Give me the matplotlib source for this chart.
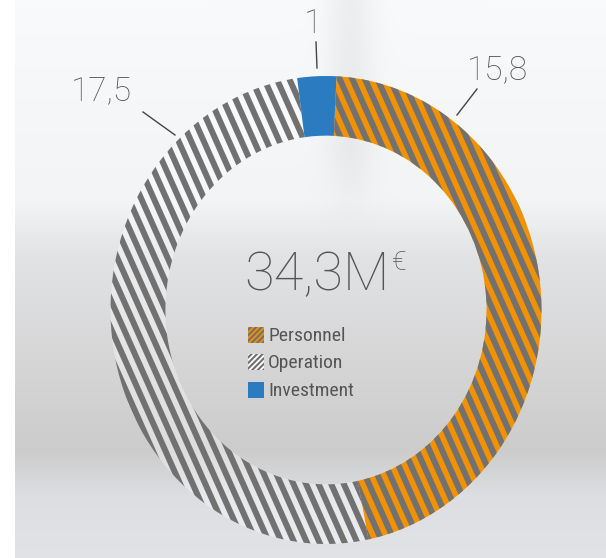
import numpy as np
import matplotlib.pyplot as plt
from matplotlib.patches import Rectangle
from matplotlib.collections import PolyCollection
from matplotlib import font_manager

# data
labels = ["Personnel", "Operation", "Investment"]
values = [15.8, 17.5, 1.0]
value_text = ["15,8", "17,5", "1"]
total_text = "34,3M"

ORANGE = "#F39200"
GREY = "#717171"
BLUE = "#2B7BC0"
TXT = "#555555"

W, H = 606, 558
fig = plt.figure(figsize=(W / 100, H / 100), dpi=100)

# blurred photo-like background
bg = fig.add_axes([0, 0, 1, 1])
ys = np.arange(H)
xs = np.arange(W)
stop_y = [0, 200, 255, 350, 450, 495, 558]
stop_c = [(248, 250, 252), (242, 244, 246), (226, 227, 229), (215, 215, 216),
          (204, 204, 204), (221, 222, 225), (226, 227, 231)]
img = np.zeros((H, W, 3))
for ch in range(3):
    img[:, :, ch] = np.interp(ys, stop_y, [c[ch] for c in stop_c])[:, None]
pole = np.exp(-((xs - 350) / 24.0) ** 2)[None, :] * np.clip((230 - ys) / 80.0, 0, 1)[:, None]
img -= 12 * pole[:, :, None]
img[:, :15] = 255
bg.imshow(np.clip(img, 0, 255) / 255, extent=[0, W, H, 0], aspect="auto")
bg.axis("off")

# donut (slightly taller than wide, as in the picture)
cx, cy = 326, 310
rx, ry = 215.5, 234
ax = fig.add_axes([(cx - rx) / W, (H - cy - ry) / H, 2 * rx / W, 2 * ry / H])
wedges, _ = ax.pie(values, colors=[ORANGE, (1, 1, 1, 0.35), BLUE],
                   startangle=87.2, counterclock=False,
                   wedgeprops=dict(width=0.255, linewidth=0))
ax.set_aspect("auto")
ax.set_xlim(-1, 1)
ax.set_ylim(-1, 1)
ax.axis("off")


def add_stripes(wedge, color, frac, period=11.5, angle=66):
    th = np.deg2rad(angle)
    d = np.array([np.cos(th), -np.sin(th)])
    n = np.array([np.sin(th), np.cos(th)])
    polys = []
    for k in range(-30, 31):
        o = n * k * period
        a = o - d * 400
        b = o + d * 400
        pts = np.array([a, b, b + n * period * frac, a + n * period * frac])
        polys.append(pts / [rx, ry])
    pc = PolyCollection(polys, facecolors=color, edgecolors="none")
    ax.add_collection(pc)
    pc.set_clip_path(wedge)


add_stripes(wedges[0], GREY, 0.52)
add_stripes(wedges[1], GREY, 0.52)

# overlay in pixel coordinates for labels and legend
ov = fig.add_axes([0, 0, 1, 1])
ov.set_xlim(0, W)
ov.set_ylim(H, 0)
ov.axis("off")
ov.patch.set_visible(False)

lab_font = dict(family=["Roboto", "DejaVu Sans"], weight="light", color=TXT)
label_pos = [(498, 70), (101, 91), (313, 24)]
leaders = [((477, 89), (457, 115)), ((143, 112), (175, 135)), ((316, 42), (317, 68))]
for txt, (x, y), (p0, p1) in zip(value_text, label_pos, leaders):
    ov.text(x, y, txt, fontsize=24, ha="center", va="center", **lab_font)
    ov.plot([p0[0], p1[0]], [p0[1], p1[1]], color="#444444", lw=1)

ov.text(390, 290, total_text, fontsize=39, ha="right", va="baseline", **lab_font)
ov.text(391, 270, "€", fontsize=19, ha="left", va="baseline", **lab_font)

# narrow font for the legend, if one is installed
narrow = "DejaVu Sans"
names = {f.name for f in font_manager.fontManager.ttflist}
for cand in ["Liberation Sans Narrow", "Roboto Condensed", "Open Sans Condensed",
             "DejaVu Sans Condensed"]:
    if cand in names:
        narrow = cand
        break

# legend inside the ring
plt.rcParams["hatch.linewidth"] = 1.5
sw_face = [ORANGE, "white", BLUE]
sw_hatch = ["//////", "//////", None]
leg_y = [335, 362, 390]
for lab, fc, ht, y in zip(labels, sw_face, sw_hatch, leg_y):
    ov.add_patch(Rectangle((248, y - 8), 16, 16, facecolor=fc, edgecolor=GREY,
                           hatch=ht, linewidth=0))
    ov.text(268, y + 1, lab, fontsize=14, ha="left", va="center",
            family=narrow, stretch="condensed", color="#555555")

fig.savefig("out.png", dpi=100)
